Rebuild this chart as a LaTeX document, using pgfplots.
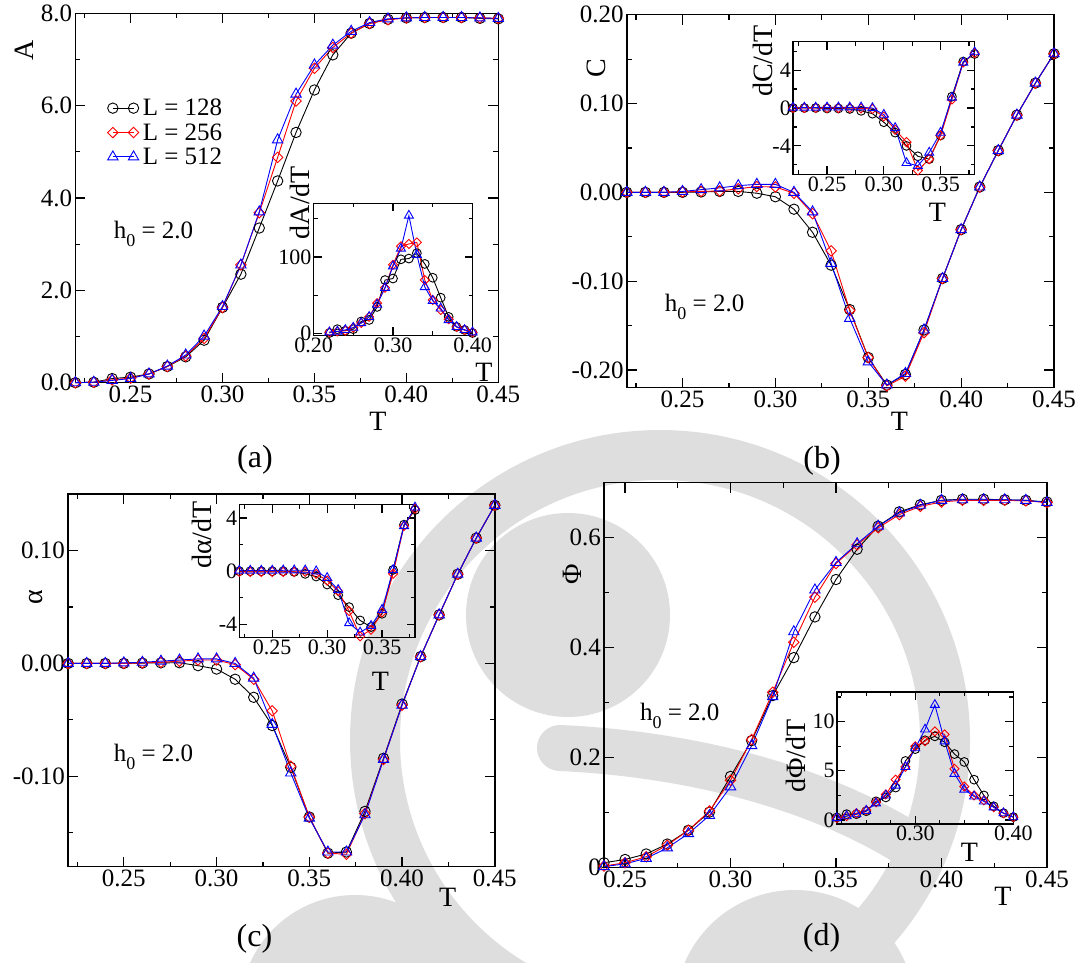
\documentclass[border=0pt]{standalone}
\usepackage{fontspec}
\setmainfont{Liberation Serif}
\usepackage{pgfplots}
\usepackage{pgfplotstable}
\pgfplotsset{compat=1.18}

\newcommand{\fs}[1]{\fontsize{#1}{#1}\selectfont}
\newcommand{\hzero}{h\raisebox{-0.32em}{\fs{18}0} = 2.0}

% ---------- data: (a) order parameter A and dA/dT ----------
\pgfplotstableread{
T    L128  L256  L512
0.22 0.00  0.00  0.00
0.23 0.01  0.01  0.01
0.24 0.09  0.06  0.05
0.25 0.12  0.10  0.09
0.26 0.19  0.19  0.19
0.27 0.35  0.35  0.36
0.28 0.56  0.58  0.60
0.29 0.92  0.96  1.01
0.30 1.63  1.63  1.65
0.31 2.35  2.55  2.55
0.32 3.35  3.68  3.70
0.33 4.37  4.88  5.26
0.34 5.42  6.10  6.25
0.35 6.34  6.81  6.88
0.36 7.10  7.26  7.31
0.37 7.57  7.57  7.61
0.38 7.78  7.78  7.80
0.39 7.87  7.86  7.88
0.40 7.90  7.90  7.90
0.41 7.91  7.91  7.91
0.42 7.91  7.91  7.91
0.43 7.91  7.91  7.91
0.44 7.89  7.90  7.90
0.45 7.88  7.89  7.89
}\tabA
\pgfplotstableread{
T    L128 L256 L512
0.22 1    2    2
0.23 6    3    3
0.24 4    4    5
0.25 6    8    8
0.26 16   14   14
0.27 18   22   22
0.28 35   40   38
0.29 70   60   60
0.30 72   90   88
0.31 97   114  111
0.32 98   117  154
0.33 105  119  103
0.34 91   70   61
0.35 73   44   43
0.36 47   31   33
0.37 22   19   18
0.38 9    9    9
0.39 5    5    5
0.40 1    2    2
}\tabAi

% ---------- data: (b) C and dC/dT ----------
\pgfplotstableread{
T    L128    L256    L512
0.22 0.000   0.000   0.000
0.23 0.000   0.000   0.000
0.24 0.000   0.000   0.000
0.25 0.000   0.0005  0.001
0.26 0.0004  0.001   0.003
0.27 0.001   0.0015  0.005
0.28 0.001   0.004   0.0075
0.29 -0.001  0.0065  0.009
0.30 -0.005  0.006   0.009
0.31 -0.019  -0.001  0.000
0.32 -0.045  -0.024  -0.022
0.33 -0.082  -0.066  -0.080
0.34 -0.132  -0.133  -0.142
0.35 -0.186  -0.186  -0.191
0.36 -0.217  -0.218  -0.217
0.37 -0.205  -0.207  -0.204
0.38 -0.155  -0.158  -0.155
0.39 -0.097  -0.097  -0.097
0.40 -0.042  -0.042  -0.042
0.41 0.006   0.006   0.006
0.42 0.047   0.047   0.047
0.43 0.087   0.087   0.087
0.44 0.123   0.123   0.123
0.45 0.156   0.156   0.156
}\tabB
\pgfplotstableread{
T    L128  L256  L512
0.22 0.00  0.00  0.05
0.23 0.00  0.00  0.05
0.24 0.00  0.00  0.05
0.25 -0.05 0.00  0.07
0.26 -0.05 0.00  0.07
0.27 -0.10 0.00  0.07
0.28 -0.30 -0.05 0.07
0.29 -0.60 -0.10 0.00
0.30 -1.50 -0.90 -0.70
0.31 -2.60 -2.30 -2.10
0.32 -4.00 -3.60 -5.80
0.33 -5.10 -6.60 -6.10
0.34 -5.40 -5.40 -4.70
0.35 -2.90 -2.90 -2.60
0.36 1.20  0.90  1.10
0.37 4.90  4.80  4.80
0.38 5.70  5.80  5.90
}\tabBi

% ---------- data: (c) alpha and dalpha/dT ----------
\pgfplotstableread{
T    L128    L256    L512
0.22 0.000   0.000   0.000
0.23 0.000   0.000   0.000
0.24 0.000   0.000   0.000
0.25 0.000   0.000   0.0005
0.26 0.0003  0.0005  0.001
0.27 0.0005  0.001   0.002
0.28 0.0006  0.002   0.003
0.29 -0.002  0.003   0.004
0.30 -0.005  0.003   0.004
0.31 -0.014  -0.001  0.000
0.32 -0.030  -0.014  -0.013
0.33 -0.055  -0.042  -0.054
0.34 -0.092  -0.091  -0.097
0.35 -0.136  -0.136  -0.137
0.36 -0.168  -0.168  -0.167
0.37 -0.167  -0.169  -0.167
0.38 -0.131  -0.133  -0.134
0.39 -0.084  -0.085  -0.085
0.40 -0.036  -0.037  -0.037
0.41 0.006   0.006   0.006
0.42 0.043   0.043   0.043
0.43 0.079   0.079   0.079
0.44 0.111   0.111   0.111
0.45 0.140   0.140   0.140
}\tabC
\pgfplotstableread{
T    L128  L256  L512
0.22 0.00  -0.05 0.05
0.23 0.00  -0.05 0.05
0.24 0.00  -0.05 0.05
0.25 0.00  -0.05 0.05
0.26 0.00  -0.05 0.07
0.27 -0.05 -0.05 0.07
0.28 -0.20 -0.05 0.07
0.29 -0.40 -0.20 0.00
0.30 -1.00 -0.70 -0.50
0.31 -1.80 -1.50 -1.40
0.32 -2.70 -3.00 -3.90
0.33 -3.70 -4.90 -4.60
0.34 -4.20 -4.40 -4.10
0.35 -3.20 -3.10 -2.90
0.36 0.10  -0.20 0.10
0.37 3.50  3.40  3.40
0.38 4.60  4.70  4.80
}\tabCi

% ---------- data: (d) Phi and dPhi/dT ----------
\pgfplotstableread{
T    L128   L256   L512
0.24 0.009  0.003  0.002
0.25 0.015  0.009  0.007
0.26 0.025  0.020  0.017
0.27 0.043  0.041  0.036
0.28 0.068  0.068  0.062
0.29 0.101  0.103  0.095
0.30 0.166  0.159  0.147
0.31 0.231  0.233  0.222
0.32 0.313  0.319  0.311
0.33 0.382  0.410  0.429
0.34 0.456  0.492  0.505
0.35 0.524  0.553  0.555
0.36 0.579  0.587  0.589
0.37 0.621  0.618  0.621
0.38 0.647  0.642  0.645
0.39 0.660  0.657  0.659
0.40 0.668  0.665  0.668
0.41 0.670  0.668  0.669
0.42 0.670  0.668  0.669
0.43 0.669  0.668  0.669
0.44 0.668  0.667  0.668
0.45 0.665  0.664  0.664
}\tabD
\pgfplotstableread{
T    L128 L256 L512
0.22 0.27 0.2  0.2
0.23 0.6  0.4  0.4
0.24 0.6  0.7  0.6
0.25 0.9  1.0  0.95
0.26 1.9  1.8  1.7
0.27 2.3  2.6  2.5
0.28 3.3  4.1  3.5
0.29 6.0  5.4  5.4
0.30 7.2  7.5  7.3
0.31 8.1  8.0  9.2
0.32 8.5  9.0  11.7
0.33 7.9  8.7  8.0
0.34 6.7  5.2  4.7
0.35 5.9  3.4  3.1
0.36 4.1  2.5  2.4
0.37 2.5  2.0  1.9
0.38 1.4  1.3  1.3
0.39 0.7  0.7  0.7
0.40 0.3  0.3  0.3
}\tabDi

\pgfplotsset{
  grace/.style={
    scale only axis, anchor=south west, clip=false,
    axis line style={line width=1.5pt},
    every tick/.style={black, line width=1.2pt},
    tick align=inside, tick pos=both,
    major tick length=10pt, minor tick length=5pt,
    tick label style={font=\fs{25}, inner sep=3pt},
  },
  inset/.style={
    grace,
    major tick length=8pt, minor tick length=4pt,
    tick label style={font=\fs{22}, inner sep=2pt},
  },
  s128/.style={black, line width=0.9pt, mark=o, mark size=#1,
    mark options={solid, line width=0.9pt}},
  s256/.style={red, line width=0.9pt, mark=square, mark size=#1,
    mark options={solid, rotate=45, line width=0.9pt}},
  s512/.style={blue, line width=0.9pt, mark=triangle, mark size=#1,
    mark options={solid, line width=0.9pt}},
}

\begin{document}
\begin{tikzpicture}
\useasboundingbox[fill=white] (0,0) rectangle (1079pt,-963pt);

% faint background emblem
\begin{scope}[black!13]
  \fill (568pt,-615pt) circle (102pt);
  \draw[line width=50pt] (660pt,-740pt) circle (285pt);
  \draw[line width=46pt, line cap=round] (560pt,-748pt) .. controls (650pt,-752pt)
       and (790pt,-772pt) .. (905pt,-842pt);
  \fill (355pt,-1010pt) circle (115pt);
  \fill (795pt,-1010pt) circle (120pt);
\end{scope}

% ================= (a) =================
\begin{axis}[grace, at={(75.4pt,-382.7pt)}, width=422.9pt, height=369.4pt,
  xmin=0.22, xmax=0.45, ymin=0, ymax=8,
  xtick={0.25,0.30,0.35,0.40,0.45}, xticklabels={0.25,0.30,0.35,0.40,0.45},
  minor xtick={0.225,0.275,0.325,0.375,0.425},
  ytick={0,2,4,6,8}, yticklabels={0.0,2.0,4.0,6.0,8.0},
  minor ytick={1,3,5,7},
  legend image code/.code={\draw[#1, mark repeat=2, mark phase=1]
     plot coordinates {(0pt,0pt) (10.35pt,0pt) (20.7pt,0pt)};},
  legend style={at={(axis description cs:0.0757,0.771)}, anchor=north west,
     draw=none, fill=none, inner sep=0pt, font=\fs{25},
     nodes={inner sep=1pt}, row sep=4.3pt, column sep=3pt},
  legend cell align=left,
]
\addplot[s128=5.2pt] table[x=T,y=L128] {\tabA};
\addplot[s256=3.7pt] table[x=T,y=L256] {\tabA};
\addplot[s512=6pt]   table[x=T,y=L512] {\tabA};
\legend{L = 128, L = 256, L = 512}
\end{axis}

\begin{axis}[inset, at={(313.5pt,-335.3pt)}, width=159pt, height=132pt,
  xmin=0.20, xmax=0.40, ymin=-2, ymax=170,
  xtick={0.20,0.30,0.40}, xticklabels={0.20,0.30,0.40},
  minor xtick={0.25,0.35},
  ytick={0,100}, yticklabels={0,100}, minor ytick={50,150},
]
\addplot[s128=4.4pt] table[x=T,y=L128] {\tabAi};
\addplot[s256=3.2pt] table[x=T,y=L256] {\tabAi};
\addplot[s512=5.2pt] table[x=T,y=L512] {\tabAi};
\end{axis}

% ================= (b) =================
\begin{axis}[grace, at={(626.8pt,-387.7pt)}, width=427.2pt, height=373pt,
  xmin=0.22, xmax=0.45, ymin=-0.22, ymax=0.20,
  xtick={0.25,0.30,0.35,0.40,0.45}, xticklabels={0.25,0.30,0.35,0.40,0.45},
  minor xtick={0.225,0.275,0.325,0.375,0.425},
  ytick={-0.2,-0.1,0,0.1,0.2}, yticklabels={-0.20,-0.10,0.00,0.10,0.20},
  minor ytick={-0.15,-0.05,0.05,0.15},
]
\addplot[s128=5.2pt] table[x=T,y=L128] {\tabB};
\addplot[s256=3.7pt] table[x=T,y=L256] {\tabB};
\addplot[s512=6pt]   table[x=T,y=L512] {\tabB};
\end{axis}

\begin{axis}[inset, at={(793pt,-174.3pt)}, width=181.6pt, height=132.6pt,
  xmin=0.22, xmax=0.38, ymin=-7, ymax=7,
  xtick={0.25,0.30,0.35}, xticklabels={0.25,0.30,0.35},
  minor xtick={0.225,0.275,0.325,0.375},
  ytick={-4,0,4}, yticklabels={-4,0,4}, minor ytick={-6,-2,2,6},
]
\addplot[s128=4.4pt] table[x=T,y=L128] {\tabBi};
\addplot[s256=3.2pt] table[x=T,y=L256] {\tabBi};
\addplot[s512=5.2pt] table[x=T,y=L512] {\tabBi};
\end{axis}

% ================= (c) =================
\begin{axis}[grace, at={(68.2pt,-866.7pt)}, width=426.6pt, height=372.7pt,
  xmin=0.22, xmax=0.45, ymin=-0.18, ymax=0.15,
  xtick={0.25,0.30,0.35,0.40,0.45}, xticklabels={0.25,0.30,0.35,0.40,0.45},
  minor xtick={0.225,0.275,0.325,0.375,0.425},
  ytick={-0.1,0,0.1}, yticklabels={-0.10,0.00,0.10},
  minor ytick={-0.15,-0.05,0.05},
]
\addplot[s128=5.2pt] table[x=T,y=L128] {\tabC};
\addplot[s256=3.7pt] table[x=T,y=L256] {\tabC};
\addplot[s512=6pt]   table[x=T,y=L512] {\tabC};
\end{axis}

\begin{axis}[inset, at={(239.3pt,-637.7pt)}, width=175.7pt, height=133pt,
  xmin=0.22, xmax=0.38, ymin=-5, ymax=5,
  xtick={0.25,0.30,0.35}, xticklabels={0.25,0.30,0.35},
  minor xtick={0.225,0.275,0.325,0.375},
  ytick={-4,0,4}, yticklabels={-4,0,4}, minor ytick={-2,2},
]
\addplot[s128=4.4pt] table[x=T,y=L128] {\tabCi};
\addplot[s256=3.2pt] table[x=T,y=L256] {\tabCi};
\addplot[s512=5.2pt] table[x=T,y=L512] {\tabCi};
\end{axis}

% ================= (d) =================
\begin{axis}[grace, at={(604pt,-867.7pt)}, width=442.9pt, height=385pt,
  xmin=0.24, xmax=0.45, ymin=0, ymax=0.7,
  xtick={0.25,0.30,0.35,0.40,0.45}, xticklabels={0.25,0.30,0.35,0.40,0.45},
  minor xtick={0.275,0.325,0.375,0.425},
  ytick={0,0.2,0.4,0.6}, yticklabels={0,0.2,0.4,0.6},
  minor ytick={0.1,0.3,0.5},
]
\addplot[s128=5.2pt] table[x=T,y=L128] {\tabD};
\addplot[s256=3.7pt] table[x=T,y=L256] {\tabD};
\addplot[s512=6pt]   table[x=T,y=L512] {\tabD};
\end{axis}

\begin{axis}[inset, at={(836.8pt,-824pt)}, width=176.5pt, height=132pt,
  xmin=0.22, xmax=0.40, ymin=-0.4, ymax=13,
  xtick={0.30,0.40}, xticklabels={0.30,0.40},
  minor xtick={0.225,0.25,0.275,0.325,0.35,0.375},
  ytick={0,5,10}, yticklabels={0,5,10}, minor ytick={2.5,7.5,12.5},
]
\addplot[s128=4.4pt] table[x=T,y=L128] {\tabDi};
\addplot[s256=3.2pt] table[x=T,y=L256] {\tabDi};
\addplot[s512=5.2pt] table[x=T,y=L512] {\tabDi};
\end{axis}

% ---------- axis titles, annotations and panel tags ----------
\begin{scope}[every node/.style={font=\fs{28}, inner sep=0pt}]
  \node[rotate=90] at (24pt,-50pt) {A};
  \node at (378pt,-421pt) {T};
  \node[rotate=90] at (299.5pt,-202.5pt) {dA/dT};
  \node at (484pt,-372.5pt) {T};

  \node[rotate=90] at (596pt,-68pt) {C};
  \node at (899.5pt,-421pt) {T};
  \node[rotate=90] at (763pt,-61pt) {dC/dT};
  \node at (937.5pt,-212.5pt) {T};

  \node[rotate=90] at (36pt,-597pt) {α};
  \node at (447.6pt,-897pt) {T};
  \node[rotate=90] at (202.3pt,-535pt) {dα/dT};
  \node at (380.5pt,-681pt) {T};

  \node[rotate=90] at (572pt,-574pt) {Φ};
  \node at (1003pt,-896.5pt) {T};
  \node[rotate=90] at (795.7pt,-755.8pt) {dΦ/dT};
  \node at (969.4pt,-852.5pt) {T};
\end{scope}

\begin{scope}[every node/.style={font=\fs{25}, inner sep=0pt, anchor=base west}]
  \node at (113.6pt,-238.3pt) {\hzero};
  \node at (664.7pt,-311.7pt) {\hzero};
  \node at (113.6pt,-761.7pt) {\hzero};
  \node at (639.9pt,-720pt) {\hzero};
\end{scope}

\begin{scope}[every node/.style={font=\fs{32}, inner sep=0pt}]
  \node at (255pt,-460pt) {(a)};
  \node at (822pt,-461pt) {(b)};
  \node at (254.5pt,-939pt) {(c)};
  \node at (821.5pt,-938pt) {(d)};
\end{scope}
\end{tikzpicture}
\end{document}
